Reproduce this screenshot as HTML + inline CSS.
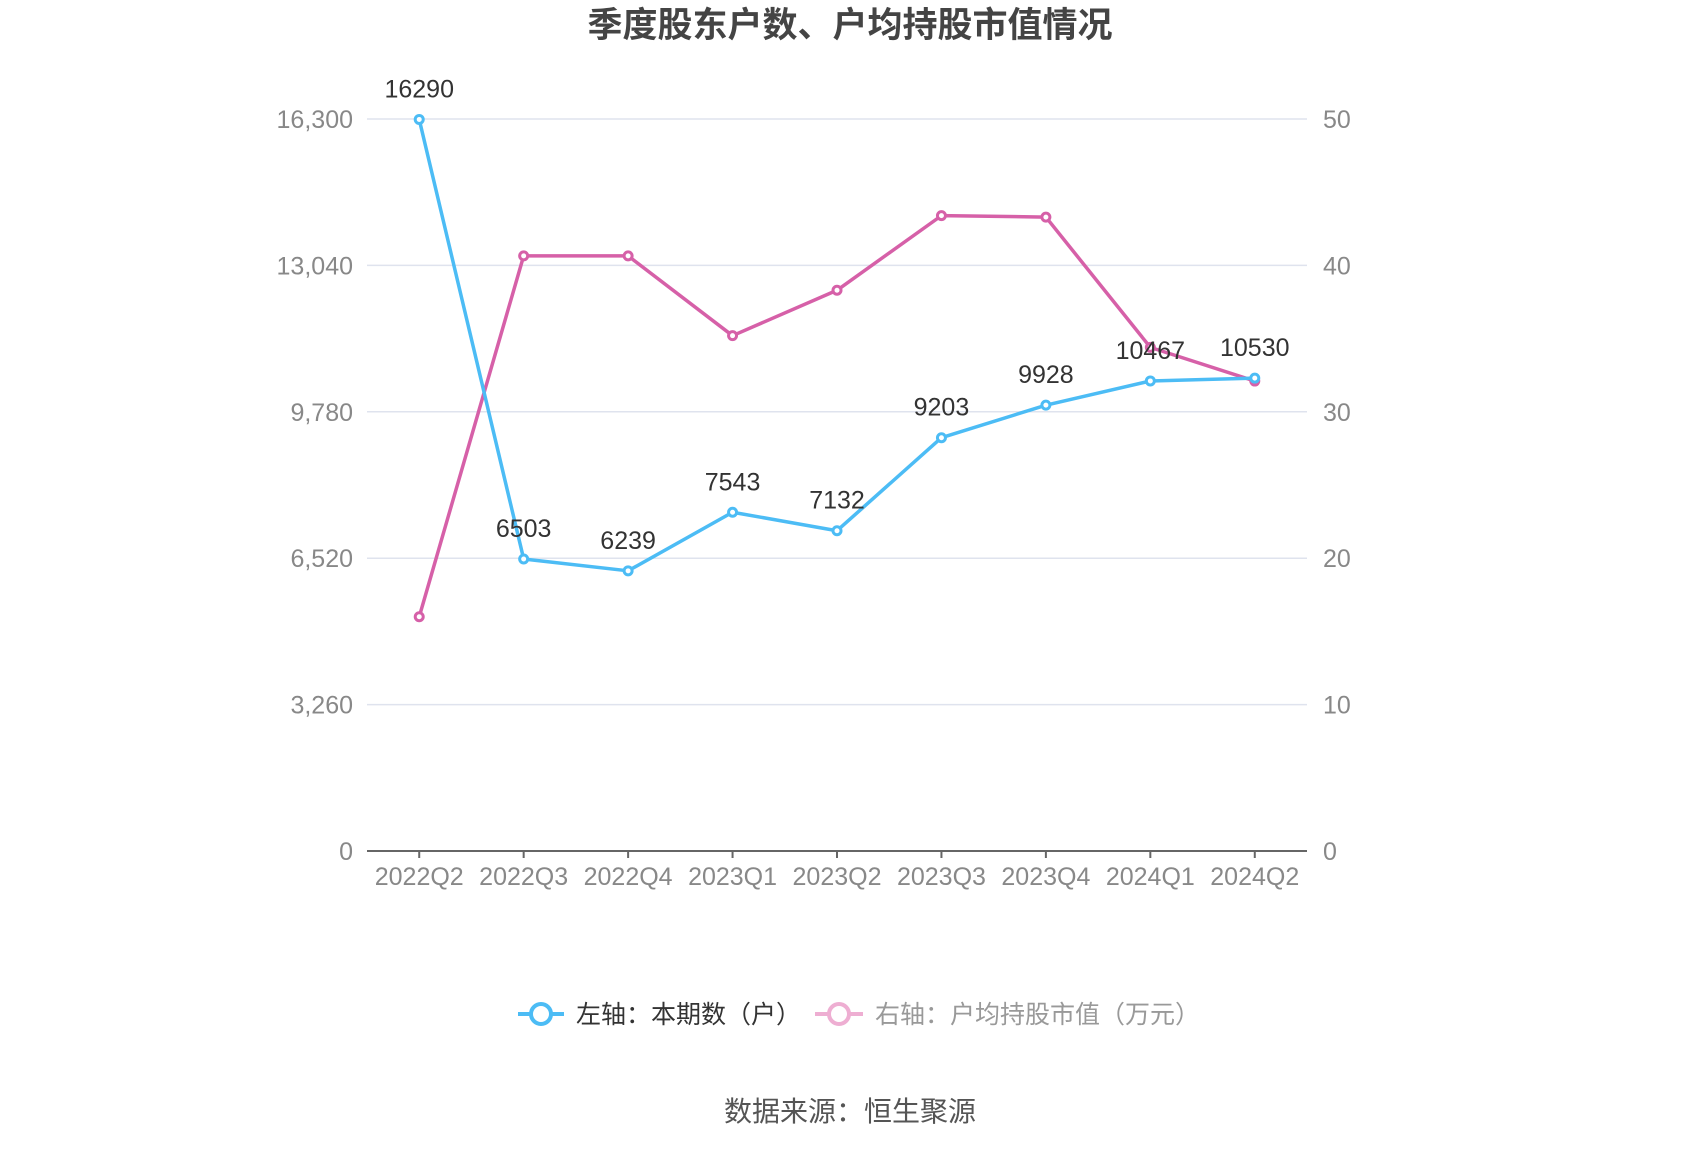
<!DOCTYPE html>
<html><head><meta charset="utf-8"><style>
body{margin:0;background:#fff;}
svg{display:block;font-family:"Liberation Sans","Noto Sans CJK SC",sans-serif;}
</style></head><body>
<svg id="chart" width="1700" height="1150" viewBox="0 0 1700 1150">
<text x="850" y="37" text-anchor="middle" font-size="35" font-weight="bold" fill="#444">季度股东户数、户均持股市值情况</text>
<g id="grid"></g><g id="axes"></g><g id="series"></g>
<g>
<g>
<line x1="518" y1="1014" x2="564" y2="1014" stroke="#4cbcf5" stroke-width="4"/>
<circle cx="541" cy="1014" r="10" fill="#fff" stroke="#4cbcf5" stroke-width="4"/>
<text x="576" y="1023" font-size="25" fill="#333">左轴：本期数（户）</text></g>
<g>
<line x1="815" y1="1014" x2="863" y2="1014" stroke="#eeaed2" stroke-width="4"/>
<circle cx="839" cy="1014" r="10" fill="#fff" stroke="#eeaed2" stroke-width="4"/>
<text x="875" y="1023" font-size="25" fill="#999">右轴：户均持股市值（万元）</text></g>
</g>
<text x="850" y="1121" text-anchor="middle" font-size="28" fill="#555">数据来源：恒生聚源</text>
</svg>
<script>
const categories=["2022Q2","2022Q3","2022Q4","2023Q1","2023Q2","2023Q3","2023Q4","2024Q1","2024Q2"];
const holders=[16290,6503,6239,7543,7132,9203,9928,10467,10530];
const avgValue=[16.0,40.65,40.65,35.2,38.3,43.4,43.3,34.4,32.1];
const leftTicks=[0,3260,6520,9780,13040,16300];
const rightTicks=[0,10,20,30,40,50];
const NS="http://www.w3.org/2000/svg";
const L=367,R=1307,T=119,B=851;
const bw=(R-L)/categories.length;
const xS=i=>L+bw*(i+0.5);
const yL=v=>B-(v/16300)*(B-T);
const yR=v=>B-(v/50)*(B-T);
function mk(tag,attrs,parent){const e=document.createElementNS(NS,tag);for(const k in attrs)e.setAttribute(k,attrs[k]);parent.appendChild(e);return e;}
const grid=document.getElementById('grid'),axes=document.getElementById('axes'),ser=document.getElementById('series');
leftTicks.forEach((v,i)=>{
  const y=yL(v);
  if(i>0){const g=mk('line',{x1:L,x2:R,y1:y,y2:y,stroke:'#dfe3ee','stroke-width':1.5},grid);
  
  }
  const t=mk('text',{x:353,y:y+9,'text-anchor':'end','font-size':25,fill:'#888'},axes);t.textContent=v.toLocaleString('en-US');
  
  
});
rightTicks.forEach(v=>{
  const t=mk('text',{x:1323,y:yR(v)+9,'font-size':25,fill:'#888'},axes);t.textContent=v;
  
  
});
const xa=mk('line',{x1:L,x2:R,y1:B,y2:B,stroke:'#666','stroke-width':2},axes);


categories.forEach((c,i)=>{
  const x=xS(i);
  mk('line',{x1:x,x2:x,y1:B,y2:B+7,stroke:'#666','stroke-width':2},axes);
  const t=mk('text',{x:x,y:B+34,'text-anchor':'middle','font-size':25,fill:'#888'},axes);t.textContent=c;
  
  
});
function drawSeries(vals,ys,color,name,labels){
  const p=mk('polyline',{points:vals.map((v,i)=>xS(i)+','+ys(v)).join(' '),fill:'none',stroke:color,'stroke-width':3.5,'stroke-linejoin':'round'},ser);
  
  
  vals.forEach((v,i)=>{
    const c=mk('circle',{cx:xS(i),cy:ys(v),r:4,fill:'#fff',stroke:color,'stroke-width':3},ser);
    
    
    if(labels){const t=mk('text',{x:xS(i),y:ys(v)-22,'text-anchor':'middle','font-size':25,fill:'#333'},ser);t.textContent=v;
    
    }
  });
}
drawSeries(avgValue,yR,'#d660a8','avg-value',false);
drawSeries(holders,yL,'#4cbcf5','holders',true);
</script>
</body></html>
